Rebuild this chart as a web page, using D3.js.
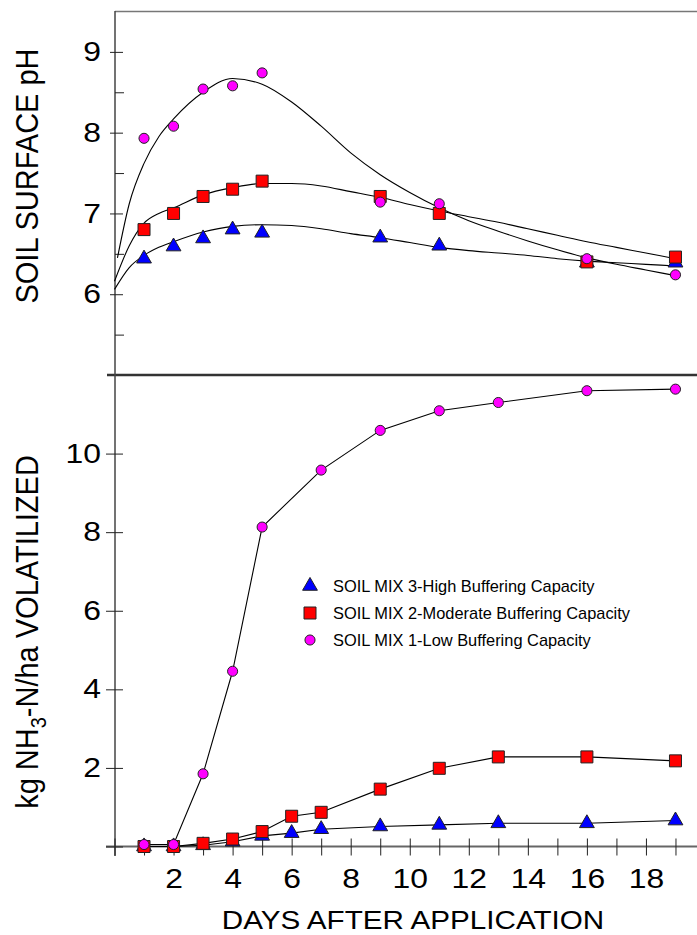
<!DOCTYPE html>
<html>
<head>
<meta charset="utf-8">
<script src="https://cdn.jsdelivr.net/npm/d3@7"></script>
<style>
  body { margin: 0; background: #fff; }
  text { font-family: "Liberation Sans", Arial, sans-serif; fill: #000; }
</style>
</head>
<body>
<script>
// soil surface pH, measured points
var phDays = [1, 2, 3, 4, 5, 9, 11, 16, 19];
var phMix1 = [7.93, 8.08, 8.54, 8.58, 8.74, 7.14, 7.12, 6.44, 6.24];
var phMix2 = [6.80, 7.00, 7.21, 7.30, 7.40, 7.21, 7.00, 6.40, 6.46];
var phMix3 = [6.44, 6.59, 6.69, 6.80, 6.76, 6.70, 6.60, 6.39, 6.39];

// fitted pH curves
var fitDays = [0, 0.5, 1, 1.5, 2, 3, 4, 5, 6, 7, 8, 9, 10, 11, 12, 13, 14, 15, 16, 17, 18, 19];
var fitDaysMix1 = [0.1, 0.5, 1, 1.5, 2, 3, 4, 5, 6, 7, 8, 9, 10, 11, 12, 13, 14, 15, 16, 17, 18, 19];
var fitMix1 = [6.45, 7.12, 7.62, 7.95, 8.17, 8.50, 8.67, 8.60, 8.38, 8.08, 7.75, 7.48, 7.26, 7.07, 6.91, 6.78, 6.66, 6.55, 6.45, 6.37, 6.30, 6.23];
var fitMix2 = [6.16, 6.60, 6.88, 7.00, 7.07, 7.23, 7.32, 7.37, 7.37, 7.34, 7.27, 7.20, 7.11, 7.03, 6.96, 6.89, 6.81, 6.73, 6.65, 6.58, 6.51, 6.44];
var fitMix3 = [6.06, 6.33, 6.48, 6.58, 6.65, 6.77, 6.84, 6.86, 6.85, 6.81, 6.75, 6.70, 6.64, 6.58, 6.54, 6.51, 6.48, 6.44, 6.41, 6.39, 6.37, 6.35];

// kg NH3-N/ha volatilized
var nDaysMix1 = [1, 2, 3, 4, 5, 7, 9, 11, 13, 16, 19];
var nMix1 = [0.05, 0.05, 1.85, 4.46, 8.13, 9.58, 10.59, 11.09, 11.30, 11.60, 11.64];
var nDays = [1, 2, 3, 4, 5, 6, 7, 9, 11, 13, 16, 19];
var nMix2 = [0, 0, 0.08, 0.19, 0.38, 0.77, 0.87, 1.46, 1.99, 2.28, 2.28, 2.18];
var nMix3 = [0, 0, 0.03, 0.12, 0.27, 0.34, 0.44, 0.51, 0.55, 0.59, 0.59, 0.66];

var legendLabels = [
  "SOIL MIX 3-High Buffering Capacity",
  "SOIL MIX 2-Moderate Buffering Capacity",
  "SOIL MIX 1-Low Buffering Capacity"
];

var xTicks = d3.range(0, 20);
var xLabels = [2, 4, 6, 8, 10, 12, 14, 16, 18];
var phTicks = [6, 7, 8, 9];
var phMinor = [5.5, 6.5, 7.5, 8.5];
var nTicks = [0, 2, 4, 6, 8, 10];

var svg = d3.select("body").append("svg")
  .attr("width", 697)
  .attr("height", 935);

var x = d3.scaleLinear().domain([0, 20]).range([114.5, 705]);
var yPh = d3.scaleLinear().domain([5, 9.5]).range([375, 11.5]);
var yN = d3.scaleLinear().domain([0, 12]).range([846.5, 375]);

var axisX = 115;
// the original text is a bit wider than it is tall
var stretch = 1.18;

// frame lines
svg.append("line").attr("x1", axisX).attr("x2", 697).attr("y1", 11.5).attr("y2", 11.5)
  .attr("stroke", "#777").attr("stroke-width", 1.5);
svg.append("line").attr("x1", 107).attr("x2", 697).attr("y1", 375).attr("y2", 375)
  .attr("stroke", "#333").attr("stroke-width", 2.5);
svg.append("line").attr("x1", 106).attr("x2", 697).attr("y1", yN(0)).attr("y2", yN(0))
  .attr("stroke", "#666").attr("stroke-width", 2);
svg.append("line").attr("x1", axisX).attr("x2", axisX).attr("y1", 11).attr("y2", 856)
  .attr("stroke", "#444").attr("stroke-width", 1.5);

// top y axis
var phAxis = svg.append("g")
  .attr("transform", `translate(${axisX},0)`)
  .call(d3.axisLeft(yPh).tickValues(phTicks).tickSize(5).tickFormat(d3.format("d")));
phAxis.select(".domain").remove();
phAxis.selectAll(".tick line").attr("x1", 8).attr("stroke", "#222");
phAxis.selectAll(".tick text")
  .attr("x", -14 / stretch)
  .attr("transform", `scale(${stretch},1)`)
  .attr("font-size", 27)
  .style("font-family", "Liberation Sans, Arial, sans-serif");

var phMinorAxis = svg.append("g")
  .attr("transform", `translate(${axisX},0)`)
  .call(d3.axisLeft(yPh).tickValues(phMinor).tickSize(-9).tickFormat(""));
phMinorAxis.select(".domain").remove();
phMinorAxis.selectAll(".tick line").attr("stroke", "#222");

// bottom y axis
var nAxis = svg.append("g")
  .attr("transform", `translate(${axisX},0)`)
  .call(d3.axisLeft(yN).tickValues(nTicks).tickSize(9)
    .tickFormat(d => d === 0 ? "" : d));
nAxis.select(".domain").remove();
nAxis.selectAll(".tick line").attr("x1", 8).attr("stroke", "#222");
nAxis.selectAll(".tick text")
  .attr("x", -14 / stretch)
  .attr("transform", `scale(${stretch},1)`)
  .attr("font-size", 27)
  .style("font-family", "Liberation Sans, Arial, sans-serif");

// x axis
var xAxis = svg.append("g")
  .attr("transform", `translate(0,${yN(0)})`)
  .call(d3.axisBottom(x).tickValues(xTicks).tickSize(9)
    .tickFormat(d => xLabels.indexOf(d) >= 0 ? d : ""));
xAxis.select(".domain").remove();
xAxis.selectAll(".tick line").attr("y1", -8).attr("stroke", "#222");
xAxis.selectAll(".tick text")
  .attr("y", 42).attr("dy", 0)
  .attr("transform", `scale(${stretch},1)`)
  .attr("font-size", 27)
  .style("font-family", "Liberation Sans, Arial, sans-serif");

// axis titles
svg.append("text")
  .attr("transform", "translate(38,176) scale(1.1,1) rotate(-90)")
  .attr("text-anchor", "middle")
  .attr("font-size", 29)
  .text("SOIL SURFACE pH");

var nTitle = svg.append("text")
  .attr("transform", "translate(38,632) scale(1.1,1) rotate(-90)")
  .attr("text-anchor", "middle")
  .attr("font-size", 29);
nTitle.append("tspan").text("kg NH");
nTitle.append("tspan").attr("font-size", 20).attr("dy", 7).text("3");
nTitle.append("tspan").attr("dy", -7).text("-N/ha VOLATILIZED");

svg.append("text")
  .attr("transform", "translate(413,929) scale(1.14,1)")
  .attr("text-anchor", "middle")
  .attr("font-size", 26)
  .text("DAYS AFTER APPLICATION");

// curves
function drawLine(days, vals, yScale, curve) {
  var line = d3.line()
    .x((d, i) => x(days[i]))
    .y(d => yScale(d))
    .curve(curve);
  svg.append("path")
    .datum(vals)
    .attr("d", line)
    .attr("fill", "none")
    .attr("stroke", "#000")
    .attr("stroke-width", 1.1);
}

drawLine(fitDays, fitMix3, yPh, d3.curveMonotoneX);
drawLine(fitDays, fitMix2, yPh, d3.curveMonotoneX);
drawLine(fitDaysMix1, fitMix1, yPh, d3.curveMonotoneX);
drawLine(nDays, nMix3, yN, d3.curveLinear);
drawLine(nDays, nMix2, yN, d3.curveLinear);
drawLine(nDaysMix1, nMix1, yN, d3.curveLinear);

// markers
var triangle = d3.symbol().type(d3.symbolTriangle).size(95);
var square = d3.symbol().type(d3.symbolSquare).size(144);
var circle = d3.symbol().type(d3.symbolCircle).size(80);

function drawMarkers(days, vals, yScale, sym, color) {
  svg.append("g").selectAll("path")
    .data(vals)
    .enter()
    .append("path")
    .attr("d", sym)
    .attr("transform", (d, i) => `translate(${x(days[i])},${yScale(d)})`)
    .attr("fill", color)
    .attr("stroke", "#222")
    .attr("stroke-width", 1);
}

drawMarkers(phDays, phMix3, yPh, triangle, "#0000ff");
drawMarkers(phDays, phMix2, yPh, square, "#ff0000");
drawMarkers(phDays, phMix1, yPh, circle, "#ff00ff");
drawMarkers(nDays, nMix3, yN, triangle, "#0000ff");
drawMarkers(nDays, nMix2, yN, square, "#ff0000");
drawMarkers(nDaysMix1, nMix1, yN, circle, "#ff00ff");

// legend
var legendSyms = [triangle, square, circle];
var legendColors = ["#0000ff", "#ff0000", "#ff00ff"];
var legend = svg.append("g").attr("transform", "translate(310,586)");
legendLabels.forEach(function (label, i) {
  var row = legend.append("g").attr("transform", `translate(0,${i * 27})`);
  row.append("path")
    .attr("d", legendSyms[i])
    .attr("fill", legendColors[i])
    .attr("stroke", "#222")
    .attr("stroke-width", 1);
  row.append("text")
    .attr("x", 23)
    .attr("y", 6)
    .attr("font-size", 16.4)
    .text(label);
});
</script>
</body>
</html>
